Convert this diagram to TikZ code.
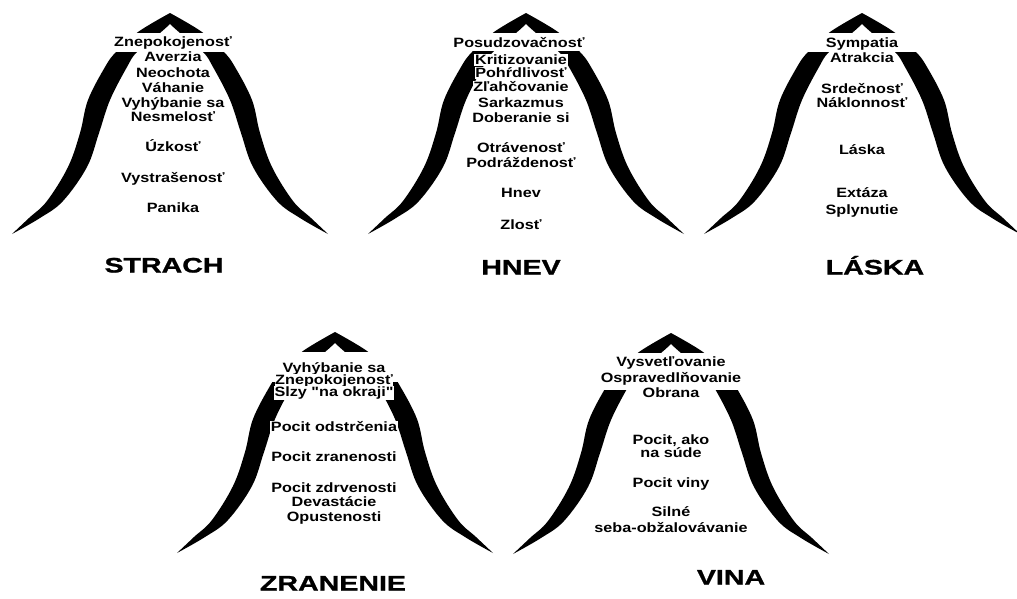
\documentclass[tikz,border=0pt]{standalone}
\usepackage{fontspec}
\newfontfamily\bodyfont[FakeStretch=1.2]{Liberation Sans Bold}
\newfontfamily\titlefont[FakeStretch=1.36,FakeBold=1.2]{Liberation Sans Bold}
\tikzset{
  pics/bell/.style={code={
    \fill[black] plot[smooth,tension=0.6] coordinates {(-158,221) (-141,205) (-123,188) (-102,154) (-90,120) (-82,87) (-65,54) (-54,39) (-32,19) (0,0)}
      -- (0,11) -- plot[smooth,tension=0.6] coordinates {(0,11) (-10,20) (-33,39) (-43,54) (-60,87) (-71,120) (-83,154) (-107,188) (-130,205) (-158,221)} -- cycle;
    \fill[black] plot[smooth,tension=0.6] coordinates {(158,221) (141,205) (123,188) (102,154) (90,120) (82,87) (65,54) (54,39) (32,19) (0,0)}
      -- (0,11) -- plot[smooth,tension=0.6] coordinates {(0,11) (10,20) (33,39) (43,54) (60,87) (71,120) (83,154) (107,188) (130,205) (158,221)} -- cycle;
    \fill[white] (-90,20) rectangle (90,#1);
  }},
  lbl/.style={font=\bodyfont\fontsize{13.5}{13.5}\selectfont, fill=white, inner sep=0.6pt, anchor=base, yshift=-4.8pt},
  ttl/.style={font=\titlefont\fontsize{21}{21}\selectfont, inner sep=0pt, anchor=base, yshift=-7.5pt}
}
\begin{document}
\begin{tikzpicture}[x=1pt,y=-1pt]
\useasboundingbox (0,0) rectangle (1017,598);
% bells
\pic (bs) at (170,13) {bell=39};
\pic (bh) at (526,13) {bell=38};
\pic (bl) at (862,13) {bell=39};
\pic (bz) at (335,332) {bell=50};
\pic (bv) at (671,333) {bell=57};
% STRACH
\node[lbl] (s1) at (173,42) {Znepokojenosť};
\node[lbl] (s2) at (173,57) {Averzia};
\node[lbl] (s3) at (173,73) {Neochota};
\node[lbl] (s4) at (173,88) {Váhanie};
\node[lbl] (s5) at (173,103) {Vyhýbanie sa};
\node[lbl] (s6) at (173,117) {Nesmelosť};
\node[lbl] (s7) at (173,147) {Úzkosť};
\node[lbl] (s8) at (173,178) {Vystrašenosť};
\node[lbl] (s9) at (173,208) {Panika};
\node[ttl] (ts) at (164,265) {STRACH};
% HNEV
\node[lbl] (h1) at (519,43) {Posudzovačnosť};
\node[lbl] (h2) at (521,60) {Kritizovanie};
\node[lbl] (h3) at (521,73) {Pohŕdlivosť};
\node[lbl] (h4) at (521,87) {Zľahčovanie};
\node[lbl] (h5) at (521,103) {Sarkazmus};
\node[lbl] (h6) at (521,118) {Doberanie si};
\node[lbl] (h7) at (521,148) {Otrávenosť};
\node[lbl] (h8) at (521,163) {Podráždenosť};
\node[lbl] (h9) at (521,193) {Hnev};
\node[lbl] (h10) at (521,225) {Zlosť};
\node[ttl] (th) at (521,267) {HNEV};
% LASKA
\node[lbl] (l1) at (862,43) {Sympatia};
\node[lbl] (l2) at (862,58) {Atrakcia};
\node[lbl] (l3) at (862,89) {Srdečnosť};
\node[lbl] (l4) at (862,103) {Náklonnosť};
\node[lbl] (l5) at (862,150) {Láska};
\node[lbl] (l6) at (862,193) {Extáza};
\node[lbl] (l7) at (862,210) {Splynutie};
\node[ttl] (tl) at (875,267) {LÁSKA};
% ZRANENIE
\node[lbl] (z1) at (334,368) {Vyhýbanie sa};
\node[lbl] (z2) at (334,380) {Znepokojenosť};
\node[lbl] (z3) at (334,392) {Slzy "na okraji"};
\node[lbl] (z4) at (334,427) {Pocit odstrčenia};
\node[lbl] (z5) at (334,457) {Pocit zranenosti};
\node[lbl] (z6) at (334,488) {Pocit zdrvenosti};
\node[lbl] (z7) at (334,502) {Devastácie};
\node[lbl] (z8) at (334,517) {Opustenosti};
\node[ttl] (tz) at (333,583) {ZRANENIE};
% VINA
\node[lbl] (v1) at (671,362) {Vysvetľovanie};
\node[lbl] (v2) at (671,378) {Ospravedlňovanie};
\node[lbl] (v3) at (671,393) {Obrana};
\node[lbl] (v4) at (671,440) {Pocit, ako};
\node[lbl] (v5) at (671,453) {na súde};
\node[lbl] (v6) at (671,483) {Pocit viny};
\node[lbl] (v7) at (671,512) {Silné};
\node[lbl] (v8) at (671,528) {seba-obžalovávanie};
\node[ttl] (tv) at (731,577) {VINA};
\end{tikzpicture}
\end{document}
